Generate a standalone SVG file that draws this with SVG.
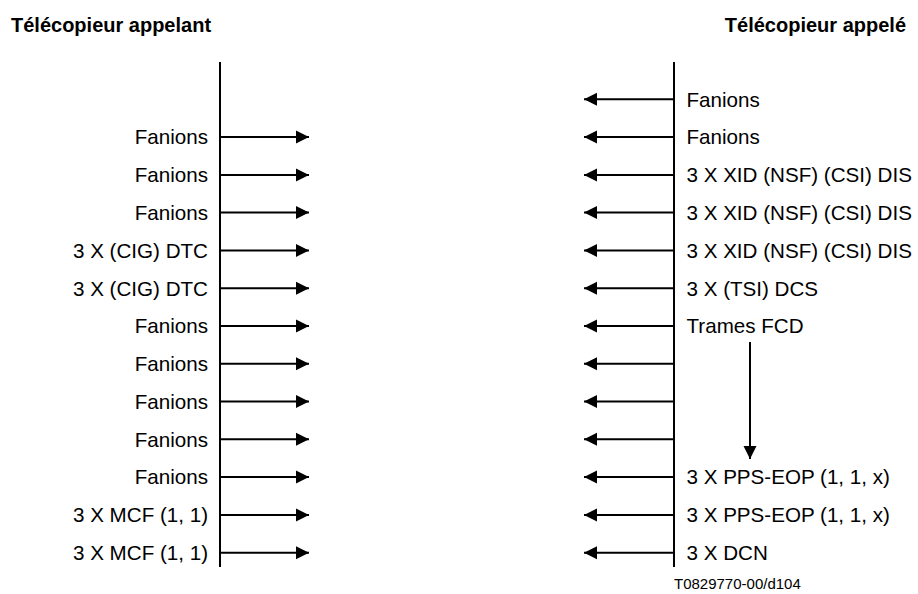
<svg xmlns="http://www.w3.org/2000/svg" width="918" height="594" viewBox="0 0 918 594">
<defs>
<style>
text{font-family:"Liberation Sans",Arial,sans-serif;fill:#000}
.t{font-size:20px;font-weight:bold}
.l{font-size:20.6px}
.r{text-anchor:end}
.f{font-size:15px}
line{stroke:#000;stroke-width:2}
</style>
<marker id="ah" markerWidth="13" markerHeight="14" refX="13" refY="7" orient="auto" markerUnits="userSpaceOnUse"><path d="M0,0.5 L13,7 L0,13.5 Z" fill="#000"/></marker>
</defs>
<rect width="918" height="594" fill="#fff"/>
<g id="title-left"><text class="t" x="11" y="32">Télécopieur appelant</text></g>
<g id="title-right"><text class="t r" x="906" y="32">Télécopieur appelé</text></g>
<g id="lifeline-left"><line x1="220" y1="62" x2="220" y2="567"/></g>
<g id="lifeline-right"><line x1="674" y1="62" x2="674" y2="567"/></g>
<g id="connectors">
<line x1="220" y1="137.1" x2="309" y2="137.1" marker-end="url(#ah)"/>
<line x1="220" y1="174.9" x2="309" y2="174.9" marker-end="url(#ah)"/>
<line x1="220" y1="212.6" x2="309" y2="212.6" marker-end="url(#ah)"/>
<line x1="220" y1="250.4" x2="309" y2="250.4" marker-end="url(#ah)"/>
<line x1="220" y1="288.2" x2="309" y2="288.2" marker-end="url(#ah)"/>
<line x1="220" y1="326" x2="309" y2="326" marker-end="url(#ah)"/>
<line x1="220" y1="363.8" x2="309" y2="363.8" marker-end="url(#ah)"/>
<line x1="220" y1="401.5" x2="309" y2="401.5" marker-end="url(#ah)"/>
<line x1="220" y1="439.3" x2="309" y2="439.3" marker-end="url(#ah)"/>
<line x1="220" y1="477.1" x2="309" y2="477.1" marker-end="url(#ah)"/>
<line x1="220" y1="514.9" x2="309" y2="514.9" marker-end="url(#ah)"/>
<line x1="220" y1="552.7" x2="309" y2="552.7" marker-end="url(#ah)"/>
<line x1="674" y1="99.3" x2="584" y2="99.3" marker-end="url(#ah)"/>
<line x1="674" y1="137.1" x2="584" y2="137.1" marker-end="url(#ah)"/>
<line x1="674" y1="174.9" x2="584" y2="174.9" marker-end="url(#ah)"/>
<line x1="674" y1="212.6" x2="584" y2="212.6" marker-end="url(#ah)"/>
<line x1="674" y1="250.4" x2="584" y2="250.4" marker-end="url(#ah)"/>
<line x1="674" y1="288.2" x2="584" y2="288.2" marker-end="url(#ah)"/>
<line x1="674" y1="326" x2="584" y2="326" marker-end="url(#ah)"/>
<line x1="674" y1="363.8" x2="584" y2="363.8" marker-end="url(#ah)"/>
<line x1="674" y1="401.5" x2="584" y2="401.5" marker-end="url(#ah)"/>
<line x1="674" y1="439.3" x2="584" y2="439.3" marker-end="url(#ah)"/>
<line x1="674" y1="477.1" x2="584" y2="477.1" marker-end="url(#ah)"/>
<line x1="674" y1="514.9" x2="584" y2="514.9" marker-end="url(#ah)"/>
<line x1="674" y1="552.7" x2="584" y2="552.7" marker-end="url(#ah)"/>
<line x1="750" y1="342" x2="750" y2="459" marker-end="url(#ah)"/>
</g>
<g id="labels-left">
<text class="l r" x="208" y="144.4">Fanions</text>
<text class="l r" x="208" y="182.2">Fanions</text>
<text class="l r" x="208" y="219.9">Fanions</text>
<text class="l r" x="208" y="257.7">3 X (CIG) DTC</text>
<text class="l r" x="208" y="295.5">3 X (CIG) DTC</text>
<text class="l r" x="208" y="333.3">Fanions</text>
<text class="l r" x="208" y="371.1">Fanions</text>
<text class="l r" x="208" y="408.8">Fanions</text>
<text class="l r" x="208" y="446.6">Fanions</text>
<text class="l r" x="208" y="484.4">Fanions</text>
<text class="l r" x="208" y="522.2">3 X MCF (1, 1)</text>
<text class="l r" x="208" y="560">3 X MCF (1, 1)</text>
</g>
<g id="labels-right">
<text class="l" x="686.5" y="106.6">Fanions</text>
<text class="l" x="686.5" y="144.4">Fanions</text>
<text class="l" x="686.5" y="182.2">3 X XID (NSF) (CSI) DIS</text>
<text class="l" x="686.5" y="219.9">3 X XID (NSF) (CSI) DIS</text>
<text class="l" x="686.5" y="257.7">3 X XID (NSF) (CSI) DIS</text>
<text class="l" x="686.5" y="295.5">3 X (TSI) DCS</text>
<text class="l" x="686.5" y="333.3">Trames FCD</text>
<text class="l" x="686.5" y="484.4">3 X PPS-EOP (1, 1, x)</text>
<text class="l" x="686.5" y="522.2">3 X PPS-EOP (1, 1, x)</text>
<text class="l" x="686.5" y="560">3 X DCN</text>
</g>
<g id="footer"><text class="f" x="674" y="589">T0829770-00/d104</text></g>
</svg>
